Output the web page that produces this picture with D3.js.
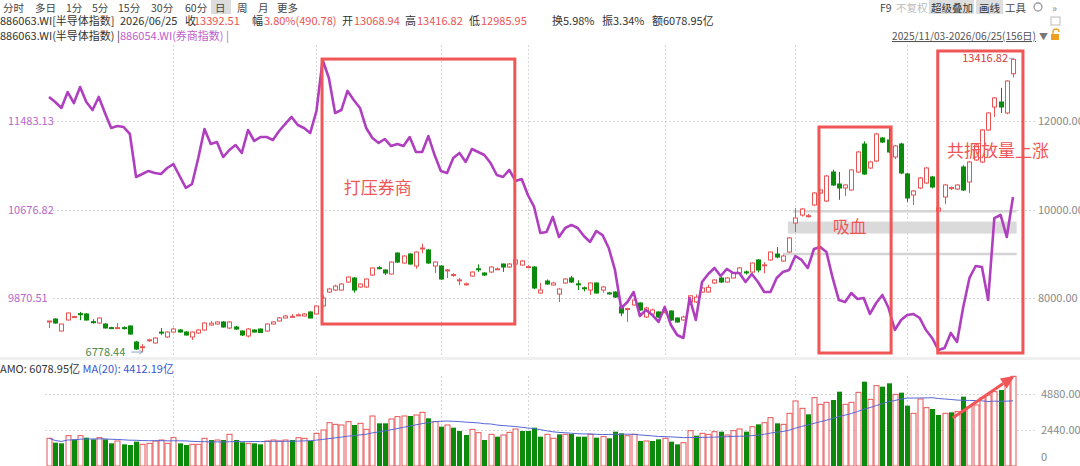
<!DOCTYPE html>
<html>
<head>
<meta charset="utf-8">
<script src="https://cdn.jsdelivr.net/npm/d3@7"></script>
<style>
  body { margin: 0; background: #fff; }
  svg { display: block; font-family: "Noto Sans CJK SC", "Noto Sans", sans-serif; }
</style>
</head>
<body>
<svg></svg>
<script>
// 886063.WI 半导体指数 daily candles, 2025/11/03 - 2026/06/25
const opens = [7470,7525,7254,7503,7570,7645,7639,7465,7435,7412,7330,7315,7330,7367,7005,6890,7040,6983,7230,7119,
  7231,7277,7231,7119,7209,7277,7390,7412,7458,7322,7345,7254,7141,7277,7299,7254,7412,7480,7548,7570,
  7610,7593,7684,7639,7819,8135,8180,8180,8361,8452,8249,8249,8520,8685,8632,8542,9016,8791,8994,8723,
  9120,9085,8723,8723,8625,8520,8400,8310,8497,8660,8565,8587,8650,8768,8700,8768,8745,8700,8700,8113,
  8384,8294,8090,8339,8452,8320,8230,8180,8339,8180,8115,8135,7797,7750,7842,7887,7571,7639,7684,7680,
  7706,7548,7503,7910,7910,8135,8135,8339,8452,8361,8452,8565,8590,8587,8859,8740,8859,8994,8836,9039,
  9695,9875,9850,10102,10373,10192,10847,10576,10486,10441,10847,11480,10938,11096,11616,11571,11187,11480,10803,10328,
  10486,10599,10735,9966,10282,10480,10463,10961,10621,11119,11073,11797,12316,12429,12181,13068.94];
const highs = [7485,7540,7420,7670,7600,7685,7660,7520,7560,7430,7350,7435,7360,7380,7030,6960,7080,7110,7320,7250,
  7330,7300,7250,7240,7290,7450,7480,7475,7480,7475,7370,7270,7320,7290,7310,7430,7480,7570,7620,7640,
  7650,7660,7700,7830,8060,8230,8300,8340,8490,8470,8330,8440,8690,8720,8650,8830,9030,8960,9010,9050,
  9230,9110,8830,8740,8650,8560,8450,8350,8600,8760,8580,8720,8690,8780,8790,8880,8860,8740,8720,8340,
  8420,8370,8220,8450,8500,8400,8260,8350,8350,8270,8140,8150,7820,7780,7970,7900,7800,7760,7700,7720,
  7720,7560,7600,8060,8080,8240,8300,8420,8470,8470,8580,8700,8620,8800,8880,8810,9050,9150,8980,9380,
  10030,10030,9900,10390,10460,10780,10900,10850,10570,10910,11320,11540,11100,11730,11640,11840,11460,11510,10830,10440,
  10730,10960,10760,10050,10580,10520,10570,11000,11100,11480,11820,12200,12540,12750,12920,13416.82];
const lows = [7320,7420,7245,7495,7550,7500,7490,7420,7420,7310,7300,7310,7290,7170,6830,6778.44,7010,6970,7160,7100,
  7220,7220,7150,7050,7190,7260,7370,7400,7330,7300,7280,7140,7110,7220,7210,7240,7400,7470,7540,7560,
  7590,7580,7540,7630,7800,8110,8160,8170,8340,8120,8230,8230,8500,8650,8520,8530,8790,8780,8750,8660,
  9010,8770,8560,8410,8450,8480,8290,8280,8480,8590,8500,8570,8630,8590,8680,8750,8730,8670,8200,8100,
  8300,8280,7910,8320,8340,8180,8150,8070,8100,8120,8080,8000,7590,7460,7830,7710,7550,7620,7550,7650,
  7480,7440,7490,7890,7890,8120,8120,8320,8340,8350,8440,8550,8530,8570,8580,8560,8840,8900,8820,9020,
  9490,9840,9820,10080,10350,10170,10530,10220,10300,10420,10830,10780,10920,11070,11500,11280,11140,10800,10170,10100,
  10460,10580,10480,9950,10120,10440,10440,10420,10370,11100,11050,11780,12090,12180,12150,12985.95];
const closes = [7480,7435,7412,7661,7580,7635,7503,7455,7548,7322,7320,7330,7318,7186,6847,6900,7055,7096,7220,7231,
  7299,7231,7164,7231,7277,7435,7430,7458,7345,7458,7299,7164,7299,7231,7220,7412,7458,7548,7593,7585,
  7620,7639,7548,7819,8000,8203,8270,8316,8474,8180,8316,8429,8678,8675,8565,8813,8813,8949,8768,9039,
  9130,8791,8813,8429,8635,8530,8410,8320,8587,8650,8520,8700,8660,8700,8768,8859,8836,8710,8226,8180,
  8316,8339,8203,8429,8361,8310,8220,8339,8113,8249,8105,8022,7661,7760,7955,7729,7774,7729,7571,7690,
  7503,7458,7571,8050,8020,8226,8240,8407,8361,8452,8565,8678,8580,8791,8633,8750,9039,8926,8949,9356,
  9808,10011,9860,10373,10441,10757,10554,10486,10554,10893,11300,10802,11073,11706,11525,11300,11435,10825,10260,10418,
  10712,10938,10509,10034,10554,10495,10554,10441,11073,11458,11797,12181,12520,12316,12904,13392.51];

// 886054.WI 券商指数 (overlay, left axis)
const brokerIndex = [11702,11656,11602,11747,11647,11793,11656,11583,11702,11556,11419,11438,11428,11365,10973,11000,11028,11009,11000,11055,
  11091,10982,10873,10909,11146,11410,11274,11292,11155,11219,11264,11192,11401,11301,11337,11337,11310,11392,11456,11520,
  11447,11419,11374,11574,12039,11875,11556,11583,11757,11674,11602,11419,11328,11283,11319,11255,11274,11255,11337,11201,
  11201,11346,11173,11028,11009,11146,11192,11110,11228,11201,11173,11100,10991,10973,11037,10937,10955,10809,10700,10463,
  10472,10609,10426,10508,10536,10508,10435,10381,10481,10444,10326,10126,9779,9834,9925,9707,9761,9716,9652,9789,
  9624,9533,9506,9871,9670,10016,10089,10144,10071,10135,10098,10098,10016,10089,10016,9925,9925,10053,10107,10126,
  10253,10217,10144,10317,10335,10290,10053,9852,9834,9916,9861,9871,9725,9825,9898,9779,9579,9670,9716,9725,
  9688,9579,9506,9397,9415,9552,9470,9789,10053,10162,10153,9852,10599,10627,10426,10791];

// 成交额 AMO (亿)
const amounts = [1877,1581,1536,2055,1807,2055,1920,1807,1920,1807,1536,1695,1468,1423,1649,1468,1536,1695,1762,1536,
  1920,1536,1423,1468,1468,1877,1762,1762,1762,2146,1762,1604,1536,1536,1468,1695,1762,1695,1762,1762,
  1920,1877,1695,2214,2440,2937,2824,2779,3005,2779,2892,2485,3389,2892,2892,3186,3344,3389,3389,3457,
  3638,3231,3005,2666,2779,2598,2372,2101,2485,2259,1762,2146,1988,2101,2281,2508,2372,2372,2598,1988,
  2146,1877,2146,2146,2169,1988,1988,2146,1920,1988,1877,2327,2214,2055,2146,1695,1695,1695,1807,1877,
  1649,1468,1581,2395,2055,2214,2146,2327,2327,2101,2395,2508,2327,2666,2824,2937,3276,2892,2824,3570,
  4406,3909,3502,4632,4180,4316,4473,5038,4180,4316,4993,5716,4519,5445,5377,5603,4857,4970,4090,3570,
  4541,3954,3864,3457,3570,3638,3683,4699,4022,4135,4632,4812,5038,5151,5603,6078.95];

// first trading day of Dec, Jan, Feb, Mar, Apr, May, Jun
const monthStarts = [20, 43, 63, 77, 99, 120, 138];

const priceTicks = [8000, 10000, 12000];
const brokerTicks = [9870.51, 10676.82, 11483.13];
const amountTicks = [0, 2440, 4880];

const annotations = [
  { label: '打压券商', from: 43.9, to: 74.9, top: 13400, bottom: 7412, textAt: 47.4, textPrice: 10486 },
  { label: '吸血', from: 123.8, to: 135.4, top: 11864, bottom: 6757, textAt: 126, textPrice: 9605 },
  { label: '共振放量上涨', from: 142.9, to: 156.6, top: 13582, bottom: 6757, textAt: 144.4, textPrice: 11322 }
];
const supportLevels = [9960, 8994];
const supportBand = [9456, 9727];

const width = 1080;
const height = 466;

const RED = '#e85454';
const GREEN = '#0c8a0c';
const PURPLE = '#b03fc0';
const MARK = '#f05656';

const svg = d3.select('svg')
  .attr('width', width)
  .attr('height', height);

const x = d3.scaleLinear().domain([0, 155]).range([49, 1013]);
const yPrice = d3.scaleLinear().domain([8000, 12000]).range([298, 121]);
const yBroker = d3.scaleLinear().domain([9870.51, 11483.13]).range([298, 121]);
const yAmt = d3.scaleLinear().domain([0, 4880]).range([466, 394]);

const bars = opens.map((o, i) => ({
  i: i,
  o: o,
  h: highs[i],
  l: lows[i],
  c: closes[i],
  amt: amounts[i],
  up: closes[i] >= opens[i],
  volUp: i === 0 ? closes[i] >= opens[i] : closes[i] >= closes[i - 1]
}));

// MA(20) of turnover
const ma20 = amounts.map((a, i) => d3.mean(amounts.slice(Math.max(0, i - 19), i + 1)));

drawHeader();
drawGrid();
drawCandles();
drawVolume();
drawAnnotations();

function drawHeader() {
  const head = svg.append('g').attr('font-size', 10.5);

  const tabs = [['分时', 3], ['多日', 35], ['1分', 66], ['5分', 92], ['15分', 118], ['30分', 151],
    ['60分', 185], ['日', 215], ['周', 237], ['月', 258], ['更多', 277]];
  head.append('rect').attr('x', 211).attr('y', 0).attr('width', 20).attr('height', 14).attr('fill', '#dcdcdc');
  head.selectAll('text.tab')
    .data(tabs)
    .enter()
    .append('text')
    .attr('x', d => d[1])
    .attr('y', 11.5)
    .attr('fill', '#444')
    .text(d => d[0]);

  head.append('text').attr('x', 880).attr('y', 11.5).attr('fill', '#444').text('F9');
  head.append('text').attr('x', 896).attr('y', 11.5).attr('fill', '#bbb').text('不复权');
  head.append('rect').attr('x', 929).attr('y', 0).attr('width', 45).attr('height', 14).attr('fill', '#dedede');
  head.append('text').attr('x', 931).attr('y', 11.5).attr('fill', '#333').text('超级叠加');
  head.append('rect').attr('x', 976).attr('y', 0).attr('width', 27).attr('height', 14).attr('fill', '#dedede');
  head.append('text').attr('x', 979).attr('y', 11.5).attr('fill', '#333').text('画线');
  head.append('text').attr('x', 1005).attr('y', 11.5).attr('fill', '#444').text('工具');
  head.append('circle').attr('cx', 1038).attr('cy', 7).attr('r', 4).attr('fill', 'none').attr('stroke', '#999').attr('stroke-width', 1.3);
  head.append('text').attr('x', 1052).attr('y', 11.5).attr('fill', '#888').text('»');

  const info = svg.append('g').attr('font-size', 11);
  const items = [
    ['886063.WI[半导体指数]', 0, '#333'], ['2026/06/25', 120, '#333'],
    ['收', 185, '#333'], ['13392.51', 194, RED],
    ['幅', 252, '#333'], ['3.80%(490.78)', 264, RED],
    ['开', 342, '#333'], ['13068.94', 354, RED],
    ['高', 405, '#333'], ['13416.82', 417, RED],
    ['低', 469, '#333'], ['12985.95', 481, RED],
    ['换5.98%', 552, '#333'], ['振3.34%', 602, '#333'], ['额6078.95亿', 652, '#333']
  ];
  info.selectAll('text')
    .data(items)
    .enter()
    .append('text')
    .attr('x', d => d[1])
    .attr('y', 25)
    .attr('fill', d => d[2])
    .text(d => d[0]);

  info.append('text').attr('x', 0).attr('y', 40).attr('fill', '#333').text('886063.WI(半导体指数) |');
  info.append('text').attr('x', 120).attr('y', 40).attr('fill', '#c060cc').text('886054.WI(券商指数) |');
  info.append('text').attr('x', 892).attr('y', 40).attr('fill', '#555')
    .attr('font-size', 10.5)
    .attr('textLength', 144).attr('lengthAdjust', 'spacingAndGlyphs')
    .attr('text-decoration', 'underline').text('2025/11/03-2026/06/25(156日)');
  info.append('text').attr('x', 1039).attr('y', 40).attr('fill', '#777').attr('font-size', 9).text('▼');
  info.append('rect').attr('x', 1051).attr('y', 17).attr('width', 9).attr('height', 8)
    .attr('fill', 'none').attr('stroke', '#bbb');
  info.append('rect').attr('x', 1051).attr('y', 34).attr('width', 8).attr('height', 6).attr('fill', '#f0a020');
  info.append('path').attr('d', 'M1053,34 v-2 a3,3 0 0 1 6,0').attr('fill', 'none').attr('stroke', '#f0a020').attr('stroke-width', 1.3);
}

function drawGrid() {
  const grid = svg.append('g')
    .attr('stroke', '#d6d6d6')
    .attr('stroke-dasharray', '2,2')
    .attr('stroke-width', 1);

  grid.selectAll('line.h')
    .data(priceTicks)
    .enter()
    .append('line')
    .attr('x1', 53).attr('x2', 1036)
    .attr('y1', d => Math.round(yPrice(d)) + 0.5)
    .attr('y2', d => Math.round(yPrice(d)) + 0.5);

  grid.selectAll('line.v')
    .data(monthStarts)
    .enter()
    .append('line')
    .attr('x1', d => Math.round(x(d)) + 0.5)
    .attr('x2', d => Math.round(x(d)) + 0.5)
    .attr('y1', 45).attr('y2', 357);

  grid.selectAll('line.va')
    .data(monthStarts)
    .enter()
    .append('line')
    .attr('x1', d => Math.round(x(d)) + 0.5)
    .attr('x2', d => Math.round(x(d)) + 0.5)
    .attr('y1', 376).attr('y2', 466);

  grid.selectAll('line.ha')
    .data(amountTicks.slice(1))
    .enter()
    .append('line')
    .attr('x1', 45).attr('x2', 1036)
    .attr('y1', d => Math.round(yAmt(d)) + 0.5)
    .attr('y2', d => Math.round(yAmt(d)) + 0.5);

  svg.append('rect').attr('x', 0).attr('y', 357).attr('width', width).attr('height', 3).attr('fill', '#efefef');

  // axis labels
  svg.append('g')
    .attr('font-size', 11)
    .attr('fill', '#888')
    .selectAll('text')
    .data(priceTicks)
    .enter()
    .append('text')
    .attr('x', 1038)
    .attr('y', d => yPrice(d) + 4)
    .text(d => d3.format('.2f')(d));

  svg.append('g')
    .attr('font-size', 11)
    .attr('fill', '#b866c8')
    .selectAll('text')
    .data(brokerTicks)
    .enter()
    .append('text')
    .attr('x', 8)
    .attr('y', d => yBroker(d) + 4)
    .text(d => d3.format('.2f')(d));

  svg.append('g')
    .attr('font-size', 11)
    .attr('fill', '#888')
    .selectAll('text')
    .data(amountTicks)
    .enter()
    .append('text')
    .attr('x', 1041)
    .attr('y', d => Math.min(yAmt(d), 457) + 4)
    .text(d => d === 0 ? '0' : d3.format('.2f')(d) + '亿');
}

function drawCandles() {
  // support lines & band in 吸血 zone
  const zone = svg.append('g');
  zone.append('rect')
    .attr('x', x(118.8)).attr('width', x(155.6) - x(118.8))
    .attr('y', yPrice(supportBand[1])).attr('height', yPrice(supportBand[0]) - yPrice(supportBand[1]))
    .attr('fill', '#dadada');
  zone.selectAll('line')
    .data(supportLevels)
    .enter()
    .append('line')
    .attr('x1', (d, k) => x(k === 0 ? 119.6 : 118)).attr('x2', x(155.6))
    .attr('y1', d => yPrice(d)).attr('y2', d => yPrice(d))
    .attr('stroke', '#d4d4d4').attr('stroke-width', 2.5);

  const candle = svg.append('g')
    .selectAll('g')
    .data(bars)
    .enter()
    .append('g');

  candle.append('line')
    .attr('x1', d => Math.round(x(d.i)) + 0.5)
    .attr('x2', d => Math.round(x(d.i)) + 0.5)
    .attr('y1', d => yPrice(d.h))
    .attr('y2', d => yPrice(d.l))
    .attr('stroke', d => d.up ? RED : GREEN);

  candle.append('rect')
    .attr('x', d => Math.round(x(d.i)) - 1.5)
    .attr('width', 4)
    .attr('y', d => yPrice(Math.max(d.o, d.c)))
    .attr('height', d => Math.max(1, Math.abs(yPrice(d.o) - yPrice(d.c))))
    .attr('fill', d => d.up ? '#fff' : GREEN)
    .attr('stroke', d => d.up ? RED : GREEN)
    .attr('stroke-width', 1);

  // 券商指数 overlay
  const line = d3.line()
    .x((d, i) => x(i))
    .y(d => yBroker(d));

  svg.append('path')
    .datum(brokerIndex)
    .attr('d', line)
    .attr('fill', 'none')
    .attr('stroke', PURPLE)
    .attr('stroke-width', 2.6)
    .attr('stroke-linejoin', 'round');

  // max / min markers
  const hi = d3.maxIndex(highs);
  const lo = d3.minIndex(lows);
  const marks = svg.append('g').attr('font-size', 11);
  marks.append('text')
    .attr('x', x(hi) - 5).attr('y', yPrice(highs[hi]) + 4)
    .attr('text-anchor', 'end').attr('fill', '#d84040')
    .text(d3.format('.2f')(highs[hi]));
  marks.append('line')
    .attr('x1', x(hi) - 4).attr('x2', x(hi) + 1)
    .attr('y1', yPrice(highs[hi])).attr('y2', yPrice(highs[hi]))
    .attr('stroke', '#8aa8c8');
  marks.append('text')
    .attr('x', x(lo) - 17).attr('y', yPrice(lows[lo]) + 4)
    .attr('text-anchor', 'end').attr('fill', '#4a8a4a')
    .text(d3.format('.2f')(lows[lo]));
  marks.append('path')
    .attr('d', `M${x(lo) - 11},${yPrice(lows[lo])} H${x(lo)} l-3,-2 M${x(lo)},${yPrice(lows[lo])} l-3,2`)
    .attr('fill', 'none')
    .attr('stroke', '#8aa8c8');
}

function drawVolume() {
  svg.append('g')
    .selectAll('rect')
    .data(bars)
    .enter()
    .append('rect')
    .attr('x', d => Math.round(x(d.i)) - 2)
    .attr('width', 5)
    .attr('y', d => yAmt(d.amt))
    .attr('height', d => yAmt(0) - yAmt(d.amt))
    .attr('fill', d => d.volUp ? '#fff' : GREEN)
    .attr('stroke', d => d.volUp ? RED : 'none')
    .attr('stroke-width', 1);

  const maLine = d3.line()
    .x((d, i) => x(i))
    .y(d => yAmt(d));

  svg.append('path')
    .datum(ma20)
    .attr('d', maLine)
    .attr('fill', 'none')
    .attr('stroke', '#5566d8')
    .attr('stroke-width', 1);

  const title = svg.append('text').attr('x', 0).attr('y', 373).attr('font-size', 11);
  title.append('tspan').attr('fill', '#333').text('AMO: ' + d3.format('.2f')(amounts[amounts.length - 1]) + '亿 ');
  title.append('tspan').attr('fill', '#3a55d0').text(' MA(20): 4412.19亿');

  // 放量 arrow
  const ax0 = x(145.3), ay0 = yAmt(3260);
  const ax1 = x(155.3), ay1 = yAmt(6120);
  const dx = ax1 - ax0, dy = ay1 - ay0, len = Math.hypot(dx, dy);
  const ux = dx / len, uy = dy / len;
  const bx = ax1 - ux * 14, by = ay1 - uy * 14;
  svg.append('line')
    .attr('x1', ax0).attr('y1', ay0).attr('x2', bx).attr('y2', by)
    .attr('stroke', MARK).attr('stroke-width', 3);
  svg.append('polygon')
    .attr('points', [[ax1, ay1], [bx - uy * 6, by + ux * 6], [bx + uy * 6, by - ux * 6]].join(' '))
    .attr('fill', MARK);
}

function drawAnnotations() {
  const g = svg.append('g');

  g.selectAll('rect')
    .data(annotations)
    .enter()
    .append('rect')
    .attr('x', d => x(d.from))
    .attr('width', d => x(d.to) - x(d.from))
    .attr('y', d => yPrice(d.top))
    .attr('height', d => yPrice(d.bottom) - yPrice(d.top))
    .attr('fill', 'none')
    .attr('stroke', MARK)
    .attr('stroke-width', 3);

  g.selectAll('text')
    .data(annotations)
    .enter()
    .append('text')
    .attr('x', d => x(d.textAt))
    .attr('y', d => yPrice(d.textPrice) + 6)
    .attr('font-size', 17)
    .attr('fill', MARK)
    .text(d => d.label);
}
</script>
</body>
</html>
